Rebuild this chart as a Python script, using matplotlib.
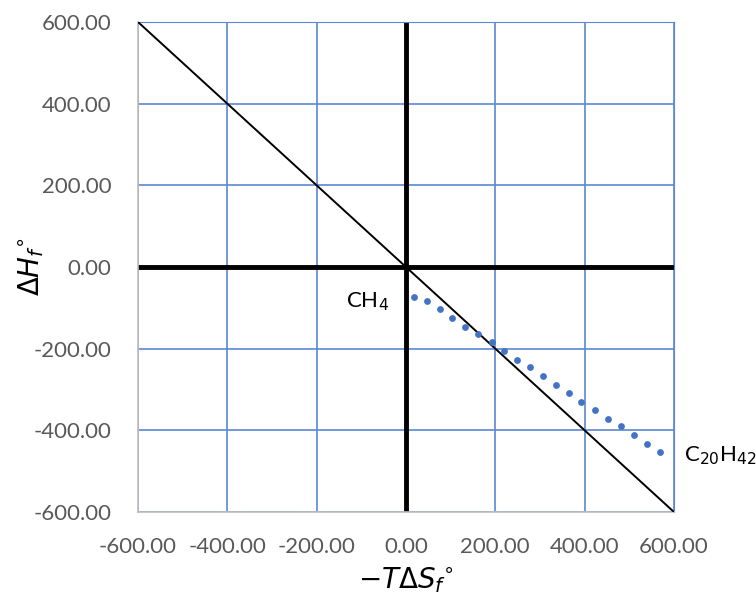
import numpy as np
import matplotlib.pyplot as plt

# -T*dS_f (x) and dH_f (y) for n-alkanes CH4 .. C20H42
neg_t_ds = [18.6, 46.3, 75.4, 102.2, 132.0, 161.9, 191.8, 220.0, 247.8, 277.6,
            306.7, 336.5, 365.6, 391.8, 423.0, 452.9, 481.3, 511.1, 538.8, 568.0]
delta_h = [-72.8, -83.3, -102.0, -124.0, -146.0, -163.4, -183.8, -205.9, -228.0, -245.9,
           -267.9, -289.2, -308.0, -330.0, -351.3, -372.5, -390.5, -412.6, -434.6, -452.6]
ticks = [-600, -400, -200, 0, 200, 400, 600]

plt.rcParams['font.family'] = ['Lato', 'DejaVu Sans']
plt.rcParams['mathtext.fontset'] = 'dejavusans'

fig = plt.figure(figsize=(7.56, 6.02), dpi=100)
ax = fig.add_axes([0.1825, 0.1495, 0.709, 0.814])

ax.set_xlim(-600, 600)
ax.set_ylim(-600, 600)
ax.set_xticks(ticks)
ax.set_yticks(ticks)
ax.set_xticklabels([f'{t:.2f}' for t in ticks])
ax.set_yticklabels([f'{t:.2f}' for t in ticks])
ax.tick_params(length=0, labelsize=16, labelcolor='#595959')
ax.tick_params(axis='x', pad=18)
ax.tick_params(axis='y', pad=19)

ax.grid(True, color='#5B87D4', linewidth=1.2)
ax.set_axisbelow(True)
for side in ['top', 'right']:
    ax.spines[side].set_color('#5B87D4')
for side in ['left', 'bottom']:
    ax.spines[side].set_color('#BFBFBF')
    ax.spines[side].set_linewidth(1.2)

# thick zero axes and the dG = 0 diagonal
ax.axhline(0, color='black', linewidth=3.5, zorder=2)
ax.axvline(0, color='black', linewidth=3.5, zorder=2)
ax.plot([-600, 600], [600, -600], color='black', linewidth=1.4, zorder=3)

ax.scatter(neg_t_ds, delta_h, s=24, color='#4472C4', zorder=4, linewidths=0)

ax.text(-38, -85, 'CH$_4$', fontsize=16, ha='right', va='center')
ax.text(622, -462, 'C$_{20}$H$_{42}$', fontsize=16, ha='left', va='center',
        clip_on=False)

ax.set_xlabel(r'$-T\Delta S_f{}^{\circ}$', fontsize=20)
ax.set_ylabel(r'$\Delta H_f{}^{\circ}$', fontsize=20)
ax.xaxis.set_label_coords(0.5, -0.108)
ax.yaxis.set_label_coords(-0.172, 0.5)

fig.savefig('out.png', dpi=100)
